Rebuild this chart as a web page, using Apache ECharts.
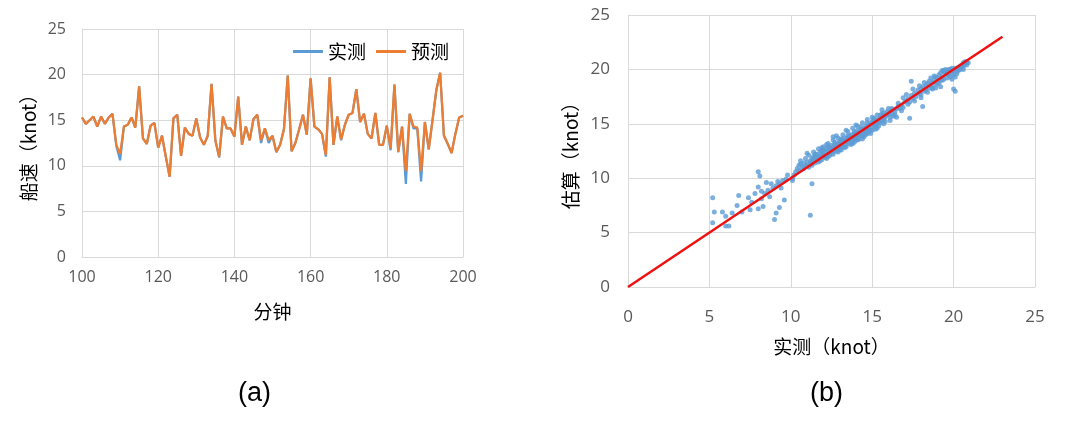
<!DOCTYPE html>
<html>
<head>
<meta charset="utf-8">
<script src="https://cdn.jsdelivr.net/npm/echarts@6/dist/echarts.min.js"></script>
<style>
html,body{margin:0;padding:0;background:#fff;}
#c{width:1070px;height:435px;}
</style>
</head>
<body>
<div id="c"></div>
<script>
// ---- Panel (a): time series ----
const minutes = [100,101,102,103,104,105,106,107,108,109,110,111,112,113,114,115,116,117,118,119,120,
121,122,123,124,125,126,127,128,129,130,131,132,133,134,135,136,137,138,139,140,
141,142,143,144,145,146,147,148,149,150,151,152,153,154,155,156,157,158,159,160,
161,162,163,164,165,166,167,168,169,170,171,172,173,174,175,176,177,178,179,180,
181,182,183,184,185,186,187,188,189,190,191,192,193,194,195,196,197,198,199,200];
const predicted = [15.3,14.6,15.0,15.4,14.3,15.4,14.6,15.3,15.7,12.3,11.3,14.3,14.5,15.3,14.2,18.7,13.0,12.4,14.4,14.7,12.0,
13.3,11.0,8.8,15.2,15.6,11.1,14.2,13.5,13.3,15.2,13.1,12.3,13.3,19.0,12.8,11.0,15.4,14.1,14.1,13.2,
17.6,12.3,14.3,12.8,15.1,15.6,12.8,14.1,12.8,13.3,11.5,12.3,14.0,19.9,11.6,12.5,14.0,15.6,13.4,19.6,
14.3,14.0,13.5,11.2,19.7,12.3,15.4,12.9,14.5,15.6,15.8,18.4,14.8,15.7,13.5,13.0,15.8,12.3,12.3,14.4,
11.9,18.9,11.5,14.3,9.4,15.7,14.3,14.2,9.4,14.8,11.8,15.0,18.3,20.2,13.3,12.4,11.4,13.5,15.3,15.5];
const actual = [15.3,14.6,15.0,15.4,14.3,15.4,14.6,15.3,15.7,12.2,10.6,14.3,14.5,15.3,14.2,18.7,13.0,12.4,14.4,14.7,12.0,
13.3,11.0,8.8,15.2,15.6,11.1,14.2,13.5,13.3,15.2,13.1,12.3,13.3,19.0,12.8,10.9,15.4,14.1,14.1,13.2,
17.6,12.3,14.3,12.8,15.1,15.6,12.5,14.1,12.5,13.3,11.5,12.3,14.0,19.9,11.6,12.5,14.0,15.6,13.4,19.6,
14.3,14.0,13.5,11.0,19.7,12.3,15.4,12.8,14.5,15.6,15.8,18.4,14.8,15.7,13.5,13.0,15.8,12.3,12.3,14.4,
11.7,18.9,11.5,14.3,8.0,15.7,14.1,14.1,8.3,14.8,11.8,15.0,18.3,20.2,13.3,12.4,11.4,13.5,15.3,15.5];
const seriesNamesA = ['实测','预测'];
const yTicksA = [0,5,10,15,20,25];
const xTicksA = [100,120,140,160,180,200];

// ---- Panel (b): scatter (measured, estimated) ----
const scatterPoints = [
[5.2,8.2],[5.3,6.9],[5.2,5.9],[5.8,6.9],[6.0,6.5],[6.0,5.6],[6.2,5.6],[6.4,6.8],[6.8,8.4],[6.7,7.5],[7.0,6.9],
[7.4,8.2],[7.5,7.1],[7.8,8.6],[8.0,7.2],[8.0,10.6],[8.1,10.2],[8.0,9.2],[8.2,8.8],[8.3,7.4],[8.5,9.6],[8.7,8.3],
[8.9,9.1],[9.0,6.2],[9.1,6.8],[9.3,7.3],[9.2,9.7],[9.4,9.1],[9.6,8.0],[9.5,9.8],[9.8,10.3],[10.1,9.8],
[8.4,8.6],[8.6,8.9],[9.1,9.3],[9.3,9.5],[9.7,9.9],[7.6,7.8],[8.2,8.1],[8.8,9.5],
[11.0,12.3],[11.3,9.5],[11.2,6.6],[12.6,13.8],[15.6,16.3],[16.2,16.4],[16.5,15.6],[17.3,15.5],[18.1,16.6],
[17.4,18.9],[16.9,17.4],[20.0,18.2],[20.1,18.0],[19.9,20.1],[18.7,18.3],[20.6,20.6],[20.8,20.7],
[10.1,10.0],[10.2,10.3],[10.3,10.6],[10.4,10.9],[10.5,11.2],[10.5,10.7],[10.6,11.3],[10.7,11.0],[10.8,11.4],
[10.8,10.9],[10.9,11.1],[11.0,11.5],[11.0,11.2],[11.1,11.0],[11.2,11.6],[11.2,11.3],[11.3,11.8],[11.3,11.2],
[11.4,11.6],[11.4,12.0],[11.5,11.4],[11.5,11.9],[11.6,12.2],[11.6,11.7],[11.7,11.5],[11.7,12.0],[11.8,12.4],
[11.8,11.9],[11.9,12.1],[11.9,11.7],[12.0,12.6],[12.0,12.2],[12.1,11.9],[12.1,12.4],[12.2,12.7],[12.2,12.1],
[12.3,12.5],[12.3,12.0],[12.4,12.8],[12.4,12.3],[12.5,12.5],[12.5,13.0],[12.6,12.4],[12.6,12.8],[12.7,13.1],
[12.7,12.6],[12.8,12.9],[12.8,12.5],[12.9,13.2],[12.9,12.8],[13.0,13.4],[13.0,12.9],[13.0,13.1],[13.1,13.6],
[13.1,13.0],[13.2,13.3],[13.2,12.9],[13.3,13.7],[13.3,13.3],[13.4,13.5],[13.4,13.1],[13.5,13.9],[13.5,13.4],
[13.6,13.6],[13.6,13.2],[13.7,14.0],[13.7,13.6],[13.8,13.8],[13.8,13.4],[13.9,14.1],[13.9,13.7],[14.0,14.2],
[14.0,13.8],[14.0,13.5],[14.1,14.0],[14.1,14.4],[14.2,13.9],[14.2,14.2],[14.3,14.5],[14.3,14.0],[14.4,14.3],
[14.4,13.9],[14.5,14.6],[14.5,14.2],[14.6,14.4],[14.6,14.8],[14.7,14.5],[14.7,14.1],[14.8,14.9],[14.8,14.6],
[14.9,14.4],[14.9,15.0],[15.0,14.7],[15.0,15.2],[15.1,14.9],[15.1,15.3],[15.2,15.1],[15.2,14.8],[15.3,15.4],
[15.3,15.0],[15.4,15.2],[15.5,15.5],[15.5,15.1],[15.6,15.3],[15.7,15.7],[15.7,15.4],[15.8,15.6],[15.9,15.8],
[16.0,15.9],[16.1,16.1],[16.2,15.9],[16.3,16.3],[16.5,16.4],[16.6,16.6],[16.8,16.7],[17.0,17.0],[17.2,17.3],
[17.4,17.6],[17.5,17.3],[17.6,17.8],[17.7,17.5],[17.8,18.1],[17.9,17.8],[18.0,18.2],[18.0,17.7],[18.1,18.4],
[18.2,18.0],[18.3,18.5],[18.3,18.1],[18.4,18.7],[18.5,18.3],[18.5,18.9],[18.6,18.5],[18.7,18.8],[18.7,18.2],
[18.8,19.0],[18.9,18.6],[19.0,19.2],[19.0,18.8],[19.1,19.5],[19.2,19.0],[19.2,19.7],[19.3,19.3],[19.4,19.8],
[19.4,19.1],[19.5,19.6],[19.6,19.2],[19.6,19.9],[19.7,19.5],[19.8,20.0],[19.8,19.3],[19.9,19.7],[20.0,19.9],
[20.0,19.5],[20.1,20.1],[20.2,19.8],[20.3,20.2],[20.4,20.0],[20.5,20.4],[20.6,20.3],[20.7,20.5],[20.8,20.6],
[11.5,12.2],[11.9,12.5],[12.3,12.9],[12.7,13.3],[13.1,13.5],[13.5,13.7],[13.9,14.3],[14.3,14.7],[14.7,15.1],
[15.1,15.5],[15.5,15.8],[15.9,16.1],[16.4,16.1],[16.7,16.4],[12.2,11.8],[12.6,12.2],[13.0,12.6],[13.4,12.9],
[13.8,13.2],[14.2,13.6],[14.6,14.0],[15.0,14.4],[15.4,14.8],[15.8,15.2],[16.1,15.6],[12.4,12.1],[13.6,13.9],
[14.8,14.3],[15.6,15.9],[17.1,17.1],[17.3,17.0],[18.9,19.3],[19.3,19.9],[19.5,20.0],[20.3,19.9],[20.5,20.1],
[10.6,11.6],[10.9,11.8],[11.1,12.1],[11.4,12.4],[11.7,12.7],[12.0,12.9],[12.3,13.2],[12.6,13.5],[12.9,13.7],
[13.2,14.0],[13.5,14.3],[13.8,14.6],[14.1,14.8],[14.4,15.1],[14.7,15.4],[15.0,15.6],[15.3,15.8],[15.7,16.0],
[11.3,11.5],[11.8,11.6],[12.1,12.0],[12.5,12.7],[12.9,12.4],[13.3,12.8],[13.7,13.1],[14.1,13.5],[14.5,13.8],
[14.9,14.1],[15.3,14.6],[15.7,15.0],[16.1,15.3],[16.4,15.8],[16.8,16.2],[11.9,12.8],[12.2,13.1],[12.8,13.9],
[13.4,14.4],[14.0,14.9],[13.1,12.6],[13.9,13.3],[14.4,13.6],[15.2,14.5],[16.0,16.4],[16.3,15.7],[16.6,16.9],
[17.2,16.8],[17.6,17.1],[17.9,18.5],[18.2,18.8],[18.4,17.9],[18.6,19.2],[18.9,18.3],[19.1,18.7],[19.3,19.0],
[19.6,19.6],[19.7,20.0],[19.9,19.1],[20.2,19.6],[20.4,20.3],[20.6,20.0],[20.7,20.7],[20.8,20.4],[20.9,20.6],
[17.5,18.2],[18.0,17.4],[18.8,19.4],[19.2,18.4],[19.4,19.9],[19.9,19.9],[20.1,19.3],[17.1,17.7],[16.9,16.5]
];
const fitX = [0, 23];
const fitY = [0, 23];
const ticksB = [0,5,10,15,20,25];

const gridColor = '#d9d9d9';
const labelColor = '#595959';
const cjk = '"Noto Sans CJK SC", "Noto Sans", sans-serif';
const latin = '"Open Sans", "Noto Sans", sans-serif';

function valueAxis(gridIndex, min, max, interval, margin, fontSize, extra) {
  return Object.assign({
    type: 'value', gridIndex, min, max, interval,
    axisLine: {show: true, lineStyle: {color: gridColor, width: 1}},
    axisTick: {show: false},
    splitLine: {show: true, lineStyle: {color: gridColor, width: 1}},
    axisLabel: {color: labelColor, fontSize, fontFamily: latin, margin},
    nameLocation: 'middle',
    nameTextStyle: {color: '#000', fontSize: 19, fontFamily: cjk}
  }, extra || {});
}

const chart = echarts.init(document.getElementById('c'), null, {renderer: 'canvas'});
chart.setOption({
  animation: false,
  backgroundColor: '#fff',
  legend: {
    data: seriesNamesA,
    left: 288, top: 37,
    itemWidth: 30, itemHeight: 3, itemGap: 10,
    textStyle: {fontSize: 19, fontFamily: cjk, color: '#000'},
    icon: 'rect'
  },
  grid: [
    {left: 82, top: 29, width: 381, height: 228},
    {left: 628, top: 15, width: 407, height: 272}
  ],
  xAxis: [
    valueAxis(0, 100, 200, 20, 12, 16, {name: '分钟', nameGap: 45}),
    valueAxis(1, 0, 25, 5, 22, 17, {name: '实测（knot）', nameGap: 50})
  ],
  yAxis: [
    valueAxis(0, 0, 25, 5, 16, 16, {name: '船速（knot）', nameGap: 44}),
    valueAxis(1, 0, 25, 5, 18, 17, {name: '估算（knot）', nameGap: 48})
  ],
  graphic: [
    {type: 'text', left: 238, top: 380, style: {text: '(a)', fontSize: 27, fontFamily: 'Arial, "Liberation Sans", sans-serif', fill: '#000'}},
    {type: 'text', left: 810, top: 380, style: {text: '(b)', fontSize: 27, fontFamily: 'Arial, "Liberation Sans", sans-serif', fill: '#000'}}
  ],
  series: [
    {name: seriesNamesA[0], type: 'line', xAxisIndex: 0, yAxisIndex: 0, symbol: 'none',
     data: minutes.map((m, i) => [m, actual[i]]),
     lineStyle: {color: '#5B9BD5', width: 2.25}, itemStyle: {color: '#5B9BD5'}},
    {name: seriesNamesA[1], type: 'line', xAxisIndex: 0, yAxisIndex: 0, symbol: 'none',
     data: minutes.map((m, i) => [m, predicted[i]]),
     lineStyle: {color: '#ED7D31', width: 2.25}, itemStyle: {color: '#ED7D31'}},
    {type: 'scatter', xAxisIndex: 1, yAxisIndex: 1, symbolSize: 5,
     data: scatterPoints, itemStyle: {color: '#5B9BD5'}},
    {type: 'line', xAxisIndex: 1, yAxisIndex: 1, symbol: 'none',
     data: fitX.map((x, i) => [x, fitY[i]]),
     lineStyle: {color: '#EE1111', width: 2.5}, z: 5}
  ]
});
</script>
</body>
</html>
